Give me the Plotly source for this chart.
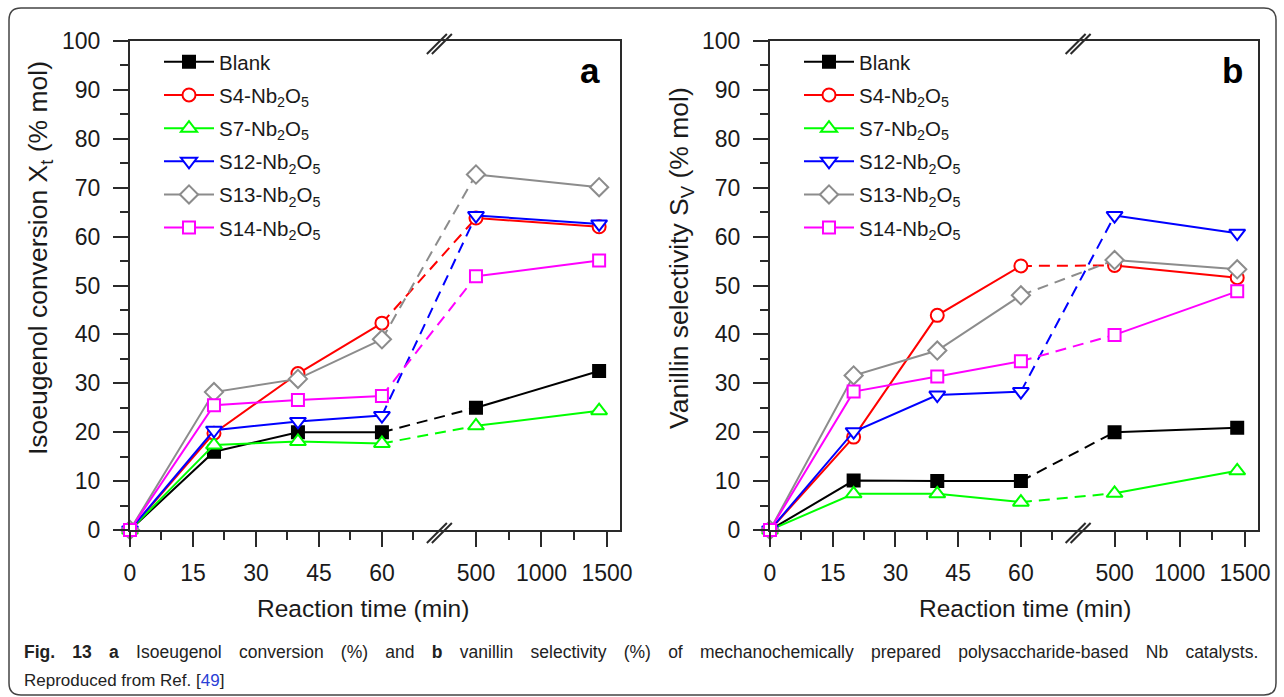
import plotly.graph_objects as go

# ---------------- data ----------------
times = [0, 20, 40, 60, 500, 1440]          # reaction time (min)
series_labels = ["Blank",
                 "S4-Nb<sub>2</sub>O<sub>5</sub>",
                 "S7-Nb<sub>2</sub>O<sub>5</sub>",
                 "S12-Nb<sub>2</sub>O<sub>5</sub>",
                 "S13-Nb<sub>2</sub>O<sub>5</sub>",
                 "S14-Nb<sub>2</sub>O<sub>5</sub>"]

# (a) isoeugenol conversion X_t (% mol)
conv_blank = [0, 16.0, 20.0, 20.0, 25.0, 32.5]
conv_s4 = [0, 19.8, 32.0, 42.3, 63.8, 62.0]
conv_s7 = [0, 17.4, 18.1, 17.7, 21.3, 24.4]
conv_s12 = [0, 20.4, 22.2, 23.4, 64.3, 62.6]
conv_s13 = [0, 28.2, 30.9, 39.0, 72.7, 70.1]
conv_s14 = [0, 25.5, 26.6, 27.4, 51.9, 55.1]

# (b) vanillin selectivity S_V (% mol)
sel_blank = [0, 10.1, 10.0, 10.0, 20.0, 20.9]
sel_s4 = [0, 19.0, 43.9, 54.0, 54.1, 51.6]
sel_s7 = [0, 7.4, 7.4, 5.7, 7.5, 12.1]
sel_s12 = [0, 20.1, 27.6, 28.3, 64.3, 60.7]
sel_s13 = [0, 31.6, 36.7, 48.0, 55.2, 53.3]
sel_s14 = [0, 28.3, 31.4, 34.5, 39.9, 48.8]

x_tick_minutes = [0, 15, 30, 45, 60, 500, 1000, 1500]
x_tick_labels = ["0", "15", "30", "45", "60", "500", "1000", "1500"]
x_minor_minutes = [7.5, 22.5, 37.5, 52.5, 67.5, 750, 1250]

# ---------------- styling ----------------
colors = ["#000000", "#ff0000", "#00ff00", "#0000ff", "#8c8c8c", "#ff00ff"]
symbols = ["square", "circle", "triangle-up", "triangle-down", "diamond", "square"]
fills = ["#000000", "white", "white", "white", "white", "white"]
msizes = [12, 13, 14, 14, 14, 12]
FONT = "Arial, Liberation Sans, sans-serif"
TXT = "#1a1a1a"
AX = "#2a2a2a"

W, H = 1284, 697

# broken time axis: linear 0-60 min, compressed beyond the break
BREAK_POS = 73.8
P500 = 82.4
K_RIGHT = 0.0312
X_MAX = 116.7


def xpos(t):
    return t if t <= 70 else P500 + (t - 500) * K_RIGHT


def px(x):
    return x / W


def py(y):
    return 1 - y / H


panels = [
    dict(ax="", left=130, right=620, data=[conv_blank, conv_s4, conv_s7, conv_s12, conv_s13, conv_s14],
         legend="legend", ytitle="Isoeugenol conversion X<sub>t</sub> (% mol)", ytx=40,
         xtx=363, tag="a", tagx=590),
    dict(ax="2", left=770, right=1258, data=[sel_blank, sel_s4, sel_s7, sel_s12, sel_s13, sel_s14],
         legend="legend2", ytitle="Vanillin selectivity S<sub>V</sub> (% mol)", ytx=681,
         xtx=1025, tag="b", tagx=1232),
]
TOP, BOT = 41, 530

fig = go.Figure()
shapes = []
annotations = []

for pi, p in enumerate(panels):
    xa = "x" + p["ax"]
    ya = "y" + p["ax"]
    # dashed connectors 60 -> 500 min (drawn first, underneath)
    for si, vals in enumerate(p["data"]):
        fig.add_trace(go.Scatter(
            x=[xpos(times[3]), xpos(times[4])], y=[vals[3], vals[4]],
            mode="lines", xaxis=xa, yaxis=ya, showlegend=False,
            line=dict(color=colors[si], width=2, dash="11px,7px"),
            hoverinfo="skip", cliponaxis=False))
    # solid segments with markers
    for si, vals in enumerate(p["data"]):
        xs = [xpos(t) for t in times[:4]] + [None] + [xpos(t) for t in times[4:]]
        ys = list(vals[:4]) + [None] + list(vals[4:])
        fig.add_trace(go.Scatter(
            x=xs, y=ys, mode="lines+markers", xaxis=xa, yaxis=ya,
            name=series_labels[si], legend=p["legend"],
            legendgroup=f"{p['tag']}{si}",
            connectgaps=False, cliponaxis=False,
            line=dict(color=colors[si], width=2),
            marker=dict(symbol=symbols[si], size=msizes[si], color=fills[si],
                        line=dict(color=colors[si], width=2))))

    # axes
    xkey = "xaxis" + p["ax"]
    ykey = "yaxis" + p["ax"]
    fig.update_layout(**{
        xkey: dict(domain=[px(p["left"]), px(p["right"])], range=[0, X_MAX],
                   anchor=ya, tickmode="array", automargin=False,
                   tickvals=[xpos(t) for t in x_tick_minutes], ticktext=x_tick_labels,
                   ticks="outside", ticklen=15, tickwidth=2, tickcolor=AX,
                   minor=dict(tickmode="array", tickvals=[xpos(t) for t in x_minor_minutes],
                              ticks="outside", ticklen=8, tickwidth=2, tickcolor=AX),
                   showline=True, linecolor=AX, linewidth=2, mirror=True,
                   showgrid=False, zeroline=False, ticklabelstandoff=6,
                   tickfont=dict(family=FONT, size=23, color=TXT)),
        ykey: dict(domain=[py(BOT), py(TOP)], range=[0, 100], anchor=xa,
                   tickmode="linear", tick0=0, dtick=10, automargin=False,
                   ticks="outside", ticklen=15, tickwidth=2, tickcolor=AX,
                   minor=dict(tickmode="linear", tick0=0, dtick=5,
                              ticks="outside", ticklen=8, tickwidth=2, tickcolor=AX),
                   showline=True, linecolor=AX, linewidth=2, mirror=True,
                   showgrid=False, zeroline=False, ticklabelstandoff=8,
                   tickfont=dict(family=FONT, size=23, color=TXT)),
        p["legend"]: dict(x=px(p["left"] + 29), y=py(42), xanchor="left", yanchor="top",
                          bgcolor="rgba(0,0,0,0)", borderwidth=0,
                          font=dict(family=FONT, size=20.5, color=TXT),
                          traceorder="grouped", tracegroupgap=3.5, itemwidth=50),
    })

    # axis titles
    annotations.append(dict(text="Reaction time (min)", x=px(p["xtx"]), y=py(608),
                            xref="paper", yref="paper", showarrow=False,
                            xanchor="center", yanchor="middle",
                            font=dict(family=FONT, size=24.5, color=TXT)))
    annotations.append(dict(text=p["ytitle"], x=px(p["ytx"]), y=py(258),
                            xref="paper", yref="paper", showarrow=False, textangle=-90,
                            xanchor="center", yanchor="middle",
                            font=dict(family=FONT, size=26.5, color=TXT)))
    annotations.append(dict(text=f"<b>{p['tag']}</b>", x=px(p["tagx"]), y=py(70),
                            xref="paper", yref="paper", showarrow=False,
                            xanchor="center", yanchor="middle",
                            font=dict(family=FONT, size=35, color="#000")))

    # axis-break marks (top and bottom)
    bx = p["left"] + BREAK_POS * (p["right"] - p["left"]) / X_MAX
    for yy in (BOT + 3, TOP + 3):
        for off in (-5, 0):
            shapes.append(dict(type="line", xref="paper", yref="paper",
                               x0=px(bx - 10 + off + 2), y0=py(yy + 10),
                               x1=px(bx + 10 + off + 2), y1=py(yy - 10),
                               line=dict(color=AX, width=2)))

# outer rounded frame
L, R, T, B, r = 9, 1276, 8, 695, 12
path = (f"M {px(L)},{py(T + r)} Q {px(L)},{py(T)} {px(L + r)},{py(T)} "
        f"L {px(R - r)},{py(T)} Q {px(R)},{py(T)} {px(R)},{py(T + r)} "
        f"L {px(R)},{py(B - r)} Q {px(R)},{py(B)} {px(R - r)},{py(B)} "
        f"L {px(L + r)},{py(B)} Q {px(L)},{py(B)} {px(L)},{py(B - r)} Z")
shapes.append(dict(type="path", path=path, xref="paper", yref="paper",
                   line=dict(color="#444444", width=1.5)))

# caption
cap1 = ("<span style='word-spacing:12.4px'><b>Fig. 13 a</b> Isoeugenol conversion (%) and <b>b</b> "
        "vanillin selectivity (%) of mechanochemically prepared polysaccharide-based Nb catalysts.</span>")
cap2 = "Reproduced from Ref. [<span style='color:#2b3fd6'>49</span>]"
annotations.append(dict(text=cap1, x=px(22), y=py(652), xref="paper", yref="paper",
                        showarrow=False, xanchor="left", yanchor="middle",
                        font=dict(family=FONT, size=17.5, color="#222")))
annotations.append(dict(text=cap2, x=px(22), y=py(680), xref="paper", yref="paper",
                        showarrow=False, xanchor="left", yanchor="middle",
                        font=dict(family=FONT, size=17, color="#222")))

fig.update_layout(width=W, height=H,
                  margin=dict(l=0, r=0, t=0, b=0, pad=0, autoexpand=False),
                  paper_bgcolor="white", plot_bgcolor="white",
                  shapes=shapes, annotations=annotations, showlegend=True,
                  font=dict(family=FONT, color=TXT))

fig.write_html("out.html", config={"displayModeBar": False},
               post_script="document.body.style.margin='0';document.body.style.overflow='hidden';")
